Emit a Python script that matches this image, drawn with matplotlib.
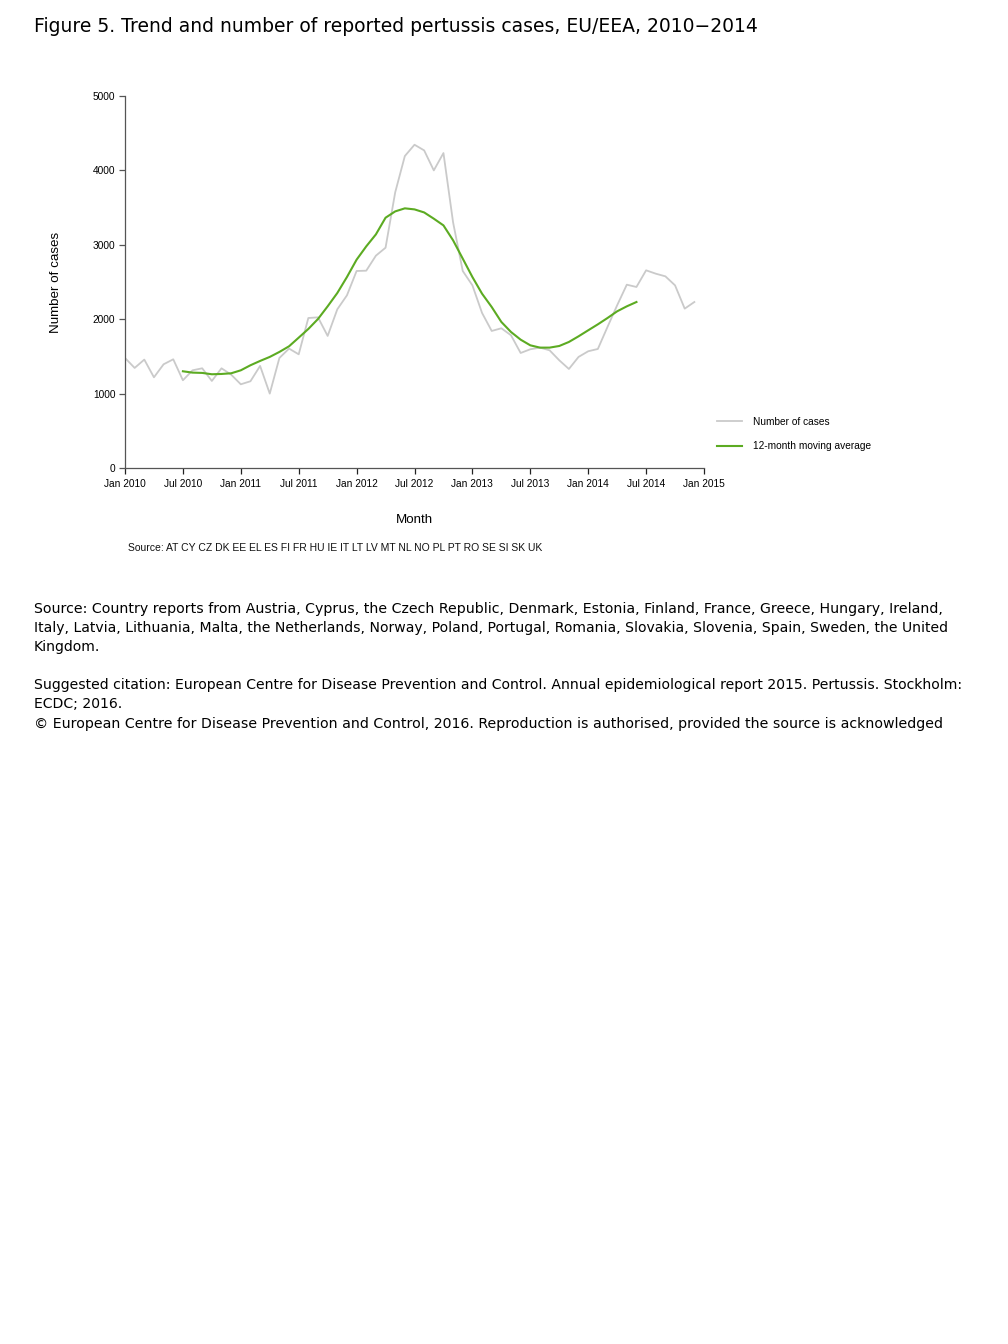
import matplotlib
matplotlib.use("Agg")
import matplotlib.pyplot as plt

# ---------------- data ----------------
months = list(range(60))  # Jan 2010 .. Dec 2014
cases = [1479, 1345, 1457, 1219, 1394, 1461, 1179, 1313, 1340, 1170, 1340, 1255,
         1125, 1166, 1372, 1000, 1479, 1605, 1528, 2016, 2025, 1775, 2133, 2321,
         2648, 2652, 2854, 2961, 3705, 4193, 4345, 4269, 4000, 4233, 3300, 2648,
         2455, 2084, 1842, 1878, 1784, 1546, 1596, 1618, 1582, 1448, 1331, 1493,
         1569, 1600, 1896, 2187, 2464, 2433, 2657, 2612, 2576, 2455, 2142, 2231]
ma_months = list(range(6, 54))
moving_avg = [1300, 1282, 1278, 1260, 1264, 1273, 1313, 1381, 1439, 1493, 1560, 1636,
              1752, 1869, 2003, 2173, 2352, 2567, 2800, 2979, 3140, 3364, 3449, 3490,
              3476, 3435, 3351, 3261, 3060, 2814, 2567, 2343, 2164, 1963, 1828, 1725,
              1649, 1618, 1618, 1640, 1694, 1770, 1851, 1931, 2016, 2106, 2173, 2231]
tick_pos = [0, 6, 12, 18, 24, 30, 36, 42, 48, 54, 60]
tick_labels = ["Jan 2010", "Jul 2010", "Jan 2011", "Jul 2011", "Jan 2012", "Jul 2012",
               "Jan 2013", "Jul 2013", "Jan 2014", "Jul 2014", "Jan 2015"]
y_ticks = [0, 1000, 2000, 3000, 4000, 5000]

title = "Figure 5. Trend and number of reported pertussis cases, EU/EEA, 2010\u22122014"
chart_source = "Source: AT CY CZ DK EE EL ES FI FR HU IE IT LT LV MT NL NO PL PT RO SE SI SK UK"
notes = [
    ("Source: Country reports from Austria, Cyprus, the Czech Republic, Denmark, Estonia, Finland, France, Greece, Hungary, Ireland,", 609, 941),
    ("Italy, Latvia, Lithuania, Malta, the Netherlands, Norway, Poland, Portugal, Romania, Slovakia, Slovenia, Spain, Sweden, the United", 628, 950),
    ("Kingdom.", 647, None),
    ("Suggested citation: European Centre for Disease Prevention and Control. Annual epidemiological report 2015. Pertussis. Stockholm:", 685, 964),
    ("ECDC; 2016.", 704, None),
    ("\u00a9 European Centre for Disease Prevention and Control, 2016. Reproduction is authorised, provided the source is acknowledged", 724, 937),
]

W, H = 1008, 1344
fig = plt.figure(figsize=(W / 100, H / 100), dpi=100)
fig.patch.set_facecolor("white")

ARIAL = "Liberation Sans"
gray = "#cacaca"
green = "#5cab22"
axc = "#555555"

L, R, T, B = 125, 704, 96, 468
ax = fig.add_axes([L / W, 1 - B / H, (R - L) / W, (B - T) / H])
ln1, = ax.plot(months, cases, color=gray, lw=1.3, label="Number of cases")
ln2, = ax.plot(ma_months, moving_avg, color=green, lw=1.5, label="12-month moving average")
ax.set_xlim(0, 60)
ax.set_ylim(0, 5000)
ax.set_xticks(tick_pos)
ax.set_xticklabels(tick_labels, fontfamily=ARIAL, fontsize=7.3)
ax.set_yticks(y_ticks)
ax.set_yticklabels([str(v) for v in y_ticks], fontfamily=ARIAL, fontsize=7.3)
for s in ("top", "right"):
    ax.spines[s].set_visible(False)
for s in ("left", "bottom"):
    ax.spines[s].set_color(axc)
    ax.spines[s].set_linewidth(0.9)
ax.tick_params(axis="x", length=4.3, width=0.9, color="#222222", pad=3.4)
ax.tick_params(axis="y", length=4.3, width=0.9, color=axc, pad=2.6)
ax.set_xlabel("Month", fontfamily=ARIAL, fontsize=9.6)
ax.set_ylabel("Number of cases", fontfamily=ARIAL, fontsize=9.6)
ax.xaxis.set_label_coords((414 - L) / (R - L), -(514 - B) / (B - T))
ax.yaxis.set_label_coords(-(125 - 62) / (R - L), 0.5)

leg = fig.legend(handles=[ln1, ln2], loc="upper left",
                 bbox_to_anchor=(717 / W, 1 - 417 / H), bbox_transform=fig.transFigure,
                 frameon=False, prop={"family": ARIAL, "size": 7.3},
                 handlelength=2.5, handletextpad=1.05, labelspacing=1.4,
                 borderpad=0, borderaxespad=0)

fig.canvas.draw()
renderer = fig.canvas.get_renderer()


def fitted(txt, x, y, size, target_w, family="DejaVu Sans", color="black"):
    t = fig.text(x / W, 1 - y / H, txt, fontfamily=family, fontsize=size,
                 ha="left", va="center", color=color)
    if target_w is not None:
        w = t.get_window_extent(renderer).width
        t.set_fontsize(size * (target_w - x) / w)
    return t


fitted(chart_source, 128, 548, 7.3, 544, family=ARIAL, color="#111111")
fitted(title, 34, 26, 14, 758)
last = 9.0
for txt, y, right in notes:
    t = fitted(txt, 34, y, last, right)
    last = t.get_fontsize()

fig.savefig("out.png", dpi=100, facecolor="white")
